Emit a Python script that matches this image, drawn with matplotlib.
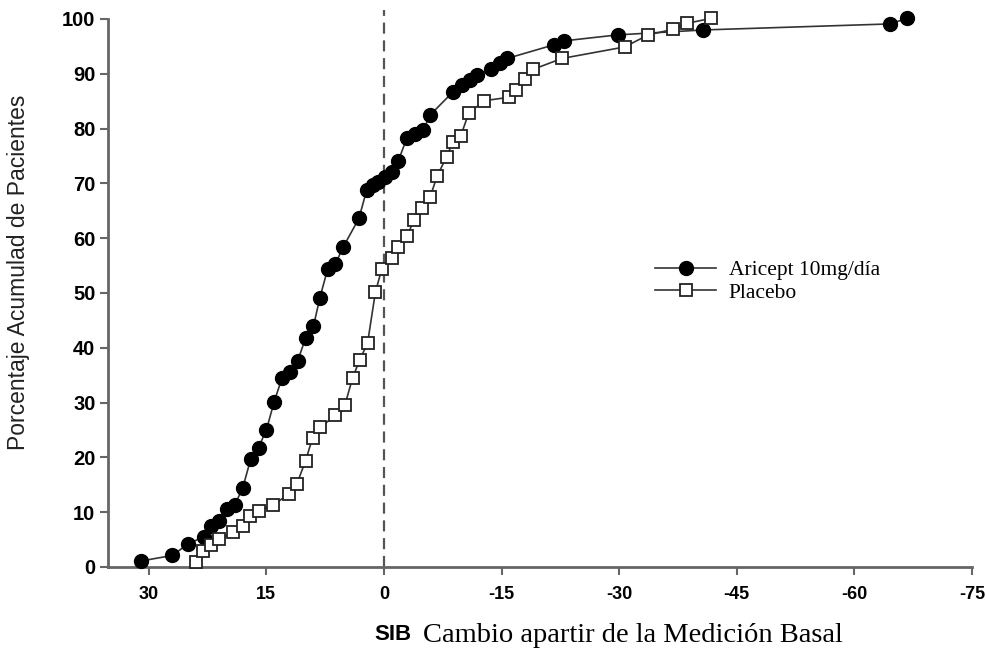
import matplotlib
matplotlib.use("Agg")
import matplotlib.pyplot as plt
from matplotlib.lines import Line2D

# Data (SIB change from baseline vs cumulative % of patients)
aricept_x = [31, 27, 25, 23, 22, 21, 20, 19, 18, 17, 16, 15, 14, 13, 12, 11, 10, 9, 8.2, 7.2,
             6.2, 5.2, 3.2, 2.2, 1.4, 0.7, -0.1, -1.0, -1.8, -2.9, -4.0, -5.0, -5.9, -8.8,
             -9.9, -11.0, -11.9, -13.7, -14.8, -15.7, -21.7, -22.9, -29.8, -40.7, -64.5, -66.7]
aricept_y = [1.1, 2.1, 4.2, 5.5, 7.4, 8.4, 10.5, 11.4, 14.5, 19.7, 21.8, 25.0, 30.2, 34.5, 35.5,
             37.6, 41.8, 43.9, 49.0, 54.3, 55.3, 58.4, 63.6, 68.8, 69.7, 70.3, 71.2, 72.0, 74.0,
             78.2, 79.0, 79.7, 82.5, 86.7, 88.0, 88.9, 89.8, 90.8, 91.9, 92.8, 95.3, 96.0, 97.1,
             98.0, 99.1, 100.1]

placebo_x = [24.0, 23.1, 22.1, 21.0, 19.3, 18.0, 17.1, 16.0, 14.1, 12.1, 11.1, 10.0, 9.1, 8.1,
             6.2, 5.0, 4.0, 3.1, 2.1, 1.1, 0.3, -1.0, -1.8, -3.0, -3.8, -4.8, -5.9, -6.8, -8.0,
             -8.8, -9.8, -10.8, -12.8, -15.9, -16.9, -18.0, -19.0, -22.7, -30.7, -33.7, -36.8,
             -38.6, -41.7]
placebo_y = [1.0, 2.9, 4.1, 5.1, 6.3, 7.4, 9.3, 10.2, 11.3, 13.4, 15.2, 19.4, 23.6, 25.5, 27.7,
             29.5, 34.5, 37.8, 40.8, 50.1, 54.3, 56.3, 58.4, 60.4, 63.4, 65.5, 67.6, 71.4, 74.9,
             77.6, 78.7, 82.8, 85.1, 85.7, 87.0, 89.0, 90.8, 92.8, 94.9, 97.1, 98.1, 99.2, 100.1]

x_ticks = [30, 15, 0, -15, -30, -45, -60, -75]
x_tick_labels = ["30", "15", "0", "-15", "-30", "-45", "-60", "-75"]
y_ticks = [0, 10, 20, 30, 40, 50, 60, 70, 80, 90, 100]

series_labels = ["Aricept 10mg/día", "Placebo"]

W, H = 987, 650
fig = plt.figure(figsize=(W / 100, H / 100), dpi=100)
ax = fig.add_axes([108 / W, 83 / H, (972 - 108) / W, (567 - 19) / H])

line_col = "#333333"
ax.plot(aricept_x, aricept_y, color=line_col, lw=1.2, marker="o", ms=10,
        mfc="black", mec="black", clip_on=False, zorder=3)
ax.plot(placebo_x, placebo_y, color=line_col, lw=1.2, marker="s", ms=8,
        mfc="white", mec="#222222", mew=1.3, clip_on=False, zorder=4)

ax.plot([0, 0], [0, 101.6], color="#555555", lw=1.6, ls=(0, (5, 3)), clip_on=False, zorder=2)

ax.set_xlim(35.2, -75)
ax.set_ylim(0, 100)

for s in ["top", "right"]:
    ax.spines[s].set_visible(False)
for s in ["left", "bottom"]:
    ax.spines[s].set_color("#666666")
    ax.spines[s].set_linewidth(2.0)

ax.set_xticks(x_ticks)
ax.set_xticklabels(x_tick_labels, fontfamily="Liberation Sans", fontweight="bold", fontsize=13)
ax.set_yticks(y_ticks)
ax.set_yticklabels([str(v) for v in y_ticks], fontfamily="Liberation Sans",
                   fontweight="bold", fontsize=14.5)
ax.tick_params(axis="both", direction="out", length=6, width=1.5, color="#666666")
ax.tick_params(axis="x", pad=8)
ax.tick_params(axis="y", pad=3)

fig.text(19 / W, 1 - 272 / H, "Porcentaje Acumulad de Pacientes", rotation=90,
         ha="center", va="center", fontfamily="Liberation Sans", fontsize=16.5, color="#222222")
fig.text(393 / W, 1 - 635 / H, "SIB", ha="center", va="center",
         fontfamily="Liberation Sans", fontweight="bold", fontsize=16)
fig.text(423 / W, 1 - 636 / H, "Cambio apartir de la Medición Basal", ha="left", va="center",
         fontfamily="Liberation Serif", fontsize=20.5)

handles = [
    Line2D([], [], color=line_col, lw=1.2, marker="o", ms=10, mfc="black", mec="black"),
    Line2D([], [], color=line_col, lw=1.2, marker="s", ms=8, mfc="white", mec="#222222", mew=1.3),
]
ax.legend(handles, series_labels, loc="upper left", bbox_to_anchor=(636 / W, 1 - 241 / H),
          bbox_transform=fig.transFigure, frameon=False, handlelength=2.8, handletextpad=0.6,
          labelspacing=0.1, prop={"family": "Liberation Serif", "size": 15.5})

fig.savefig("out.png", dpi=100)
